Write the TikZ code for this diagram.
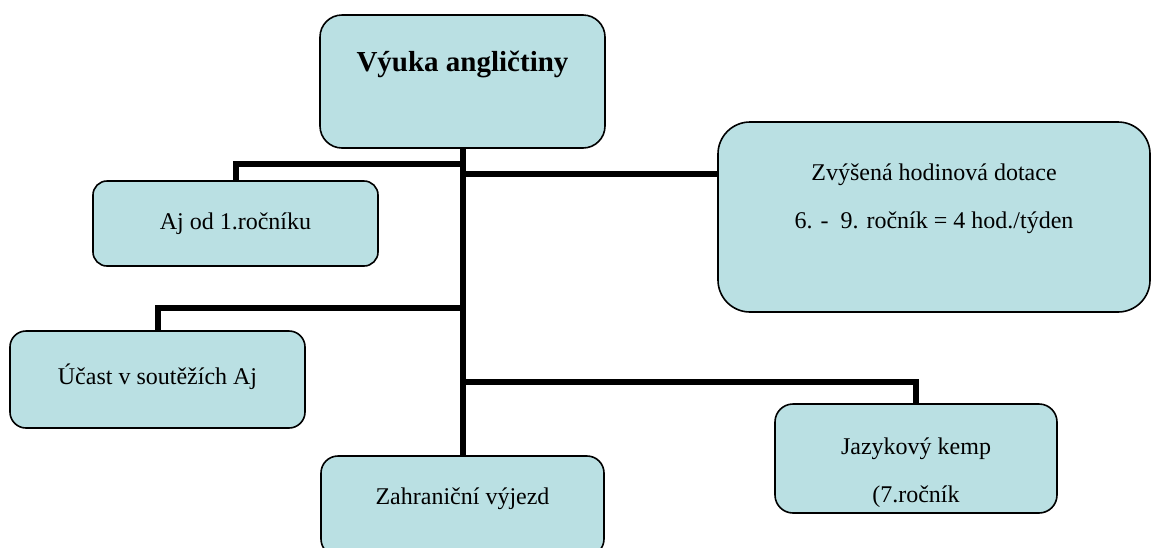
\documentclass[tikz,border=0pt]{standalone}
\usepackage{fontspec}
\setmainfont{Liberation Serif}
\definecolor{boxblue}{RGB}{186,224,227}

\begin{document}
\begin{tikzpicture}[x=1pt, y=-1pt,
        box/.style = {rectangle, draw, line width=1.6pt, fill=boxblue, inner sep=0pt,
                      font=\fontsize{24}{48}\selectfont, align=center},
       link/.style = {line width=6pt}
                    ]
\useasboundingbox (0,0) rectangle (1151,547);
\clip (0,0) rectangle (1151,547);
\node (main)  [box, rounded corners=22pt, minimum width=285pt, minimum height=133pt,
               font=\fontsize{29}{35}\selectfont\bfseries, text height=20pt, text depth=41pt]
               at (462.5,81.5) {Výuka angličtiny};
\node (aj)    [box, rounded corners=14pt, minimum width=285pt, minimum height=85pt,
               text height=17pt, text depth=6pt] at (235.5,223.5) {Aj od 1.ročníku};
\node (dot)   [box, rounded corners=32pt, minimum width=432pt, minimum height=190pt,
               text height=28pt, text depth=6pt]
               at (934,217) {Zvýšená hodinová dotace\\6. -\ \ 9. ročník = 4 hod./týden};
\node (ucast) [box, rounded corners=16pt, minimum width=295pt, minimum height=97pt,
               text height=16pt, text depth=7pt] at (157.5,379.5) {Účast v soutěžích Aj};
\node (zahr)  [box, rounded corners=17pt, minimum width=283pt, minimum height=100pt,
               text height=16pt, text depth=20pt] at (462.5,506) {Zahraniční výjezd};
\node (kemp)  [box, rounded corners=18pt, minimum width=282pt, minimum height=109pt,
               text height=93pt, text depth=6pt] at (916,458.5) {Jazykový kemp\\(7.ročník};
% spojnice
\path (main.south) ++(0,15)  coordinate (j1)
      (main.south) ++(0,25)  coordinate (j2)
      (main.south) ++(0,159) coordinate (j3)
      (main.south) ++(0,233) coordinate (j4);
\draw[link] (main.south) -- (zahr.north);
\draw[link] (aj.north) |- (j1);
\draw[link] (j2) -- (j2 -| dot.west);
\draw[link] (ucast.north) |- (j3);
\draw[link] (kemp.north) |- (j4);
\end{tikzpicture}
\end{document}
